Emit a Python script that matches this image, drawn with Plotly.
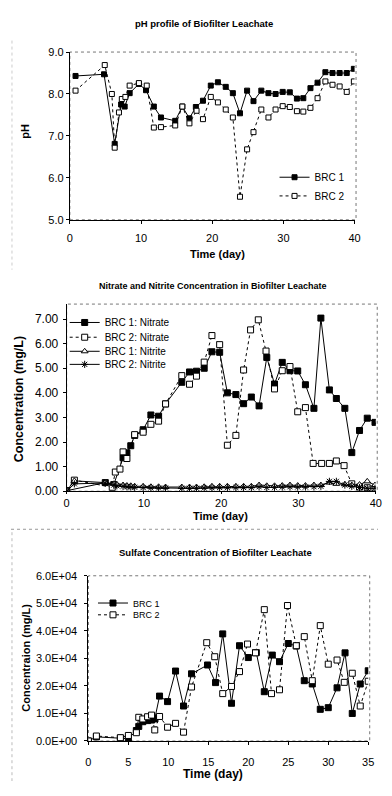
import plotly.graph_objects as go

# The page body keeps its default 8px margin, so the figure is sized to fit inside it.
OFF = 8
W, H = 392 - 2 * OFF, 796 - 2 * OFF

# ---------------- data ----------------
# pH profile
ph_days_brc1 = [0.8, 4.8, 6.3, 7.2, 7.7, 8.4, 9.7, 10.7, 11.8, 12.8, 14.8, 15.8, 16.8, 17.7, 18.7, 19.8,
                20.8, 21.9, 22.9, 23.9, 24.9, 25.8, 26.9, 27.9, 28.9, 29.9, 30.9, 31.9, 32.8, 33.8, 34.8,
                35.9, 36.9, 37.9, 38.9, 39.9]
ph_brc1 = [8.43, 8.47, 6.81, 7.75, 7.7, 8.02, 8.24, 8.09, 7.7, 7.44, 7.36, 7.7, 7.42, 7.69, 7.84, 8.2,
           8.28, 8.17, 8.02, 7.54, 8.08, 7.83, 8.08, 8.02, 8.0, 8.05, 8.04, 7.89, 7.9, 8.14, 8.27,
           8.52, 8.5, 8.5, 8.5, 8.6]
ph_days_brc2 = [0.8, 4.9, 5.9, 6.3, 6.9, 7.3, 7.8, 8.4, 9.7, 10.8, 11.8, 12.8, 14.8, 15.8, 16.8, 17.8,
                18.7, 19.8, 20.8, 21.9, 22.9, 23.9, 24.9, 25.8, 26.9, 27.9, 28.9, 29.9, 30.9, 31.9,
                32.8, 33.8, 34.8, 35.9, 36.9, 37.9, 38.9, 39.9]
ph_brc2 = [8.08, 8.69, 8.0, 6.72, 7.56, 7.88, 7.93, 8.2, 8.26, 8.2, 7.2, 7.21, 7.25, 7.7, 7.3, 7.6,
           7.4, 7.93, 7.8, 7.63, 7.44, 5.55, 6.68, 7.09, 7.63, 7.44, 7.63, 7.71, 7.69, 7.59,
           7.58, 7.67, 7.9, 8.3, 8.22, 8.18, 8.05, 8.3]

# Nitrate / nitrite
no3_days_brc1 = [0, 5, 6.1, 7.3, 7.8, 8.3, 8.8, 9.9, 10.9, 11.9, 12.8, 14.9, 15.9, 16.8, 17.8, 18.8,
                 19.8, 20.8, 21.9, 22.9, 23.9, 24.9, 25.9, 26.9, 27.9, 28.9, 29.9, 30.9, 32.0, 32.9,
                 34.0, 34.9, 36.0, 36.9, 37.9, 38.9, 39.9, 40.5]
no3_brc1 = [0.02, 0.35, 0.27, 1.36, 1.56, 1.85, 2.27, 2.5, 3.1, 3.05, 3.55, 4.43, 4.85, 4.88, 5.0, 5.67,
            5.65, 4.0, 3.93, 3.56, 3.83, 3.47, 5.44, 4.36, 5.24, 4.9, 4.89, 4.33, 3.37, 7.04,
            4.12, 3.77, 3.37, 1.57, 2.47, 2.97, 2.8, 2.45]
no3_days_brc2 = [0, 1, 5.9, 6.3, 6.9, 7.3, 7.8, 8.8, 9.9, 10.9, 11.9, 12.8, 14.9, 15.9, 16.8, 17.8,
                 18.8, 19.8, 20.8, 21.9, 22.9, 23.8, 24.8, 25.8, 26.9, 27.9, 28.9, 29.9, 30.9, 31.9,
                 33.0, 34.0, 34.9, 35.9, 36.9, 37.9, 38.9, 39.9]
no3_brc2 = [0.02, 0.45, 0.16, 0.78, 0.9, 1.6, 1.33, 2.3, 2.4, 2.72, 2.85, 3.55, 4.7, 4.35, 4.68, 5.25,
            6.33, 5.96, 1.87, 2.27, 4.93, 6.56, 6.97, 5.7, 4.16, 4.9, 5.07, 3.23, 3.4, 1.13,
            1.13, 1.13, 1.23, 1.04, 0.3, 0.17, 0.14, 0.13]
no2_days = [0, 1, 5, 6.1, 6.5, 7.3, 7.8, 8.3, 8.8, 9.9, 10.9, 11.9, 12.8, 14.9, 15.9, 16.8, 17.8, 18.8,
            19.8, 20.8, 21.9, 22.9, 23.9, 24.9, 25.9, 26.9, 27.9, 28.9, 29.9, 30.9, 32.0, 32.9,
            34.0, 34.9, 36.0, 36.9, 37.9, 38.9, 39.9]
no2_brc1 = [0.02, 0.42, 0.35, 0.3, 0.28, 0.25, 0.23, 0.22, 0.2, 0.2, 0.18, 0.18, 0.17, 0.17, 0.17, 0.17,
            0.18, 0.2, 0.2, 0.2, 0.2, 0.2, 0.2, 0.25, 0.22, 0.22, 0.23, 0.25, 0.23, 0.23, 0.25, 0.25,
            0.35, 0.3, 0.28, 0.25, 0.27, 0.4, 0.25]
no2_brc2 = [0.0, 0.3, 0.33, 0.25, 0.22, 0.2, 0.18, 0.17, 0.16, 0.15, 0.14, 0.13, 0.13, 0.12, 0.12, 0.12,
            0.13, 0.14, 0.15, 0.15, 0.15, 0.15, 0.15, 0.18, 0.15, 0.16, 0.17, 0.18, 0.17, 0.17, 0.18, 0.2,
            0.4, 0.4, 0.25, 0.2, 0.15, 0.12, 0.12]

# Sulfate
so4_days_brc1 = [0, 1, 4, 5, 6, 6.3, 6.8, 7.4, 7.9, 8.3, 8.9, 9.9, 10.9, 11.9, 12.9, 14.9, 15.9, 16.8,
                 17.9, 18.9, 20.0, 21.0, 22.0, 23.0, 23.9, 25.0, 26.0, 27.0, 28.0, 29.0, 30.0, 31.1,
                 32.1, 33.0, 34.0, 35.0]
so4_brc1 = [0.0, 1500, 1000, 800, 3800, 5300, 7000, 7400, 7600, 8000, 16300, 14300, 25400, 12700, 24400,
            27600, 21200, 38900, 13700, 34600, 30300, 32100, 17900, 31200, 28800, 35400, 34500, 21900,
            20700, 11500, 12100, 19300, 32000, 10000, 20700, 25500]
so4_days_brc2 = [0, 1, 4, 5, 6, 6.3, 6.8, 7.4, 7.9, 8.3, 8.9, 9.9, 10.9, 11.9, 12.9, 14.8, 15.8, 16.8,
                 17.9, 18.9, 19.9, 20.9, 22.0, 22.9, 23.9, 24.9, 26.0, 27.0, 28.0, 29.0, 30.0, 31.1,
                 32.0, 33.0, 34.0, 35.0]
so4_brc2 = [0.0, 1800, 1200, 2000, 3000, 8600, 8000, 8800, 9400, 4000, 8900, 5000, 6400, 3200, 19600,
            35700, 30600, 17200, 19800, 25200, 35200, 32000, 47700, 17200, 18600, 49200, 34600, 37900,
            21900, 41900, 27900, 29400, 21300, 24600, 12700, 21700]

ph_ticks = [5, 6, 7, 8, 9]
no3_ticks = [0, 1, 2, 3, 4, 5, 6, 7]
so4_ticks = [0, 10000, 20000, 30000, 40000, 50000, 60000]
so4_ticktext = ["0.0E+00", "1.0E+04", "2.0E+04", "3.0E+04", "4.0E+04", "5.0E+04", "6.0E+04"]

# ---------------- helpers ----------------
FONT = "Liberation Sans, Arial, sans-serif"


def px(x):
    """page pixel x -> paper fraction"""
    return (x - OFF) / W


def py(y):
    """page pixel y (from top) -> paper fraction"""
    return 1 - (y - OFF) / H


fig = go.Figure()


def add(x, y, name, xa, ya, legend, dash="solid", symbol="square", filled=True, size=5, lw=1):
    fig.add_trace(go.Scatter(
        x=x, y=y, name=name, xaxis=xa, yaxis=ya, legend=legend, mode="lines+markers",
        line=dict(color="black", width=lw, dash=dash),
        marker=dict(symbol=symbol, size=size, color="black" if filled else "white",
                    line=dict(color="black", width=1)),
    ))


# chart 1 (pH)
add(ph_days_brc1, ph_brc1, "BRC 1", "x", "y", "legend", size=5)
add(ph_days_brc2, ph_brc2, "BRC 2", "x", "y", "legend2", dash="dot", filled=False, size=5)
# chart 2 (nitrate/nitrite)
add(no3_days_brc1, no3_brc1, "BRC 1: Nitrate", "x2", "y2", "legend3", size=6)
add(no3_days_brc2, no3_brc2, "BRC 2: Nitrate", "x2", "y2", "legend4", dash="dot", filled=False, size=6)
add(no2_days, no2_brc1, "BRC 1: Nitrite", "x2", "y2", "legend5", symbol="triangle-up", filled=False, size=6)
add(no2_days, no2_brc2, "BRC 2: Nitrite", "x2", "y2", "legend6", symbol="asterisk-open", size=6)
# chart 3 (sulfate)
add(so4_days_brc1, so4_brc1, "BRC 1", "x3", "y3", "legend7", size=6)
add(so4_days_brc2, so4_brc2, "BRC 2", "x3", "y3", "legend8", dash="dot", filled=False, size=6)

axis_common = dict(showline=True, linecolor="black", linewidth=1, showgrid=False, zeroline=False,
                   ticks="outside", tickcolor="black", ticklen=3, mirror=False,
                   tickfont=dict(family=FONT, size=11, color="black"))
f12 = dict(family=FONT, size=12, color="black")

# plot area pixel boxes on the page: (left, right, top, bottom)
box1 = (68.3, 360.0, 46.7, 217.3)
box2 = (65.0, 381.7, 303.0, 493.3)
box3 = (87.3, 374.0, 579.3, 747.3)

layout = dict(
    width=W, height=H, margin=dict(l=0, r=0, t=0, b=0),
    paper_bgcolor="white", plot_bgcolor="white", showlegend=True,
    font=dict(family=FONT, color="black"),
    xaxis=dict(domain=[px(box1[0]), px(box1[1])], range=[0, 40], tickvals=[0, 10, 20, 30, 40],
               anchor="y", ticklabelstandoff=5, **axis_common),
    yaxis=dict(domain=[py(box1[3]), py(box1[2])], range=[5, 9], tickvals=ph_ticks, tickformat=".1f",
               anchor="x", **axis_common),
    xaxis2=dict(domain=[px(box2[0]), px(box2[1])], range=[0, 40], tickvals=[0, 10, 20, 30, 40],
                anchor="y2", ticklabelstandoff=0, **{**axis_common, "ticklen": 2}),
    yaxis2=dict(domain=[py(box2[3]), py(box2[2])], range=[0, 7.61], tickvals=no3_ticks, tickformat=".2f",
                anchor="x2", ticklabelstandoff=2, **{**axis_common, "tickfont": f12}),
    xaxis3=dict(domain=[px(box3[0]), px(box3[1])], range=[0, 35], tickvals=[0, 5, 10, 15, 20, 25, 30, 35],
                anchor="y3", ticklabelstandoff=8, **axis_common),
    yaxis3=dict(domain=[py(box3[3]), py(box3[2])], range=[0, 60000], tickvals=so4_ticks,
                ticktext=so4_ticktext, anchor="x3", ticklabelstandoff=5, **axis_common),
)

# legends: one per entry so that spacing matches the original
leg_specs = [
    ("legend", 278, 174, 10), ("legend2", 278, 193, 10),
    ("legend3", 63, 321.7, 10), ("legend4", 63, 336.7, 10),
    ("legend5", 63, 351, 10), ("legend6", 63, 364.3, 10),
    ("legend7", 92, 607, 9), ("legend8", 92, 619, 9),
]
for key, lx, ly, fs in leg_specs:
    layout[key] = dict(x=px(lx), y=py(ly), xanchor="left", yanchor="middle",
                       bgcolor="rgba(0,0,0,0)", borderwidth=0,
                       font=dict(family=FONT, size=fs, color="black"), tracegroupgap=0)

fig.update_layout(**layout)

# plot-area borders (dotted grey, like the scanned Excel frame)
shapes = []
for (l, r, t, b) in (box1, box2, box3):
    shapes.append(dict(type="rect", xref="paper", yref="paper", x0=px(l), x1=px(r + 1.5), y0=py(b), y1=py(t),
                       line=dict(color="#777", width=1, dash="dot"), layer="below"))
# faint outer frame lines of the scanned page
shapes.append(dict(type="line", xref="paper", yref="paper", x0=0, x1=1, y0=py(532), y1=py(532),
                   line=dict(color="#999", width=1, dash="dot")))
shapes.append(dict(type="line", xref="paper", yref="paper", x0=px(9), x1=px(9), y0=py(535), y1=0,
                   line=dict(color="#bbb", width=1, dash="dot")))
shapes.append(dict(type="line", xref="paper", yref="paper", x0=px(9), x1=px(9), y0=py(35), y1=py(268),
                   line=dict(color="#ccc", width=1, dash="dot")))
fig.update_layout(shapes=shapes)


# titles and axis titles
def note(text, x, y, size, angle=0):
    fig.add_annotation(text=f"<b>{text}</b>", x=px(x), y=py(y), xref="paper", yref="paper",
                       showarrow=False, xanchor="center", yanchor="middle", textangle=angle,
                       font=dict(family=FONT, size=size, color="black"))


note("pH profile of Biofilter Leachate", 206, 18, 9.5)
note("Time (day)", 220, 252, 11)
note("pH", 22, 127, 11, -90)

note("Nitrate and Nitrite Concentration in Biofilter Leachate", 215, 285, 9)
note("Time (day)", 223, 518, 11)
note("Concentration (mg/L)", 17, 400, 12.5, -90)

note("Sulfate Concentration of Biofilter Leachate", 217.5, 556, 9.5)
note("Time (day)", 215, 781, 12)
note("Concentraion (mg/L)", 23, 663, 11, -90)

fig.write_html("out.html", config={"displayModeBar": False})
